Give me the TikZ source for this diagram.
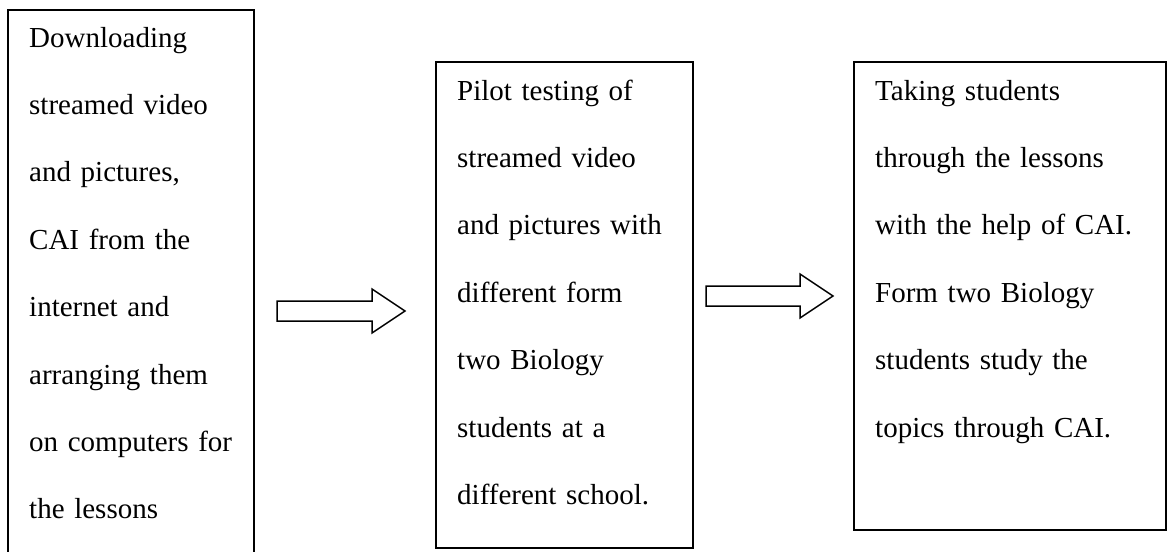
\documentclass[tikz,border=0pt]{standalone}
\usepackage{fontspec}
\setmainfont{Liberation Serif}
\usetikzlibrary{calc}
\begin{document}
\begin{tikzpicture}[x=1pt,y=-1pt,
  boxline/.style={draw=black, line width=1.6pt, inner sep=0pt},
  txt/.style={anchor=base west, inner sep=0pt, text width=330pt, align=left,
              font=\fontsize{29}{67.4}\selectfont},
  blockarrow/.style={draw=black, line width=1.5pt, fill=white, line join=miter}]
\useasboundingbox (0,0) rectangle (1171,552);
\clip (0,0) rectangle (1171,552);
% boxes
\node[boxline, minimum width=246pt, minimum height=560pt] (b1) at (131,290) {};
\node[boxline, minimum width=257pt, minimum height=486pt] (b2) at (564.5,305) {};
\node[boxline, minimum width=312pt, minimum height=468pt] (b3) at (1010,296) {};
% texts
\node[txt] (t1) at (29,47) {Downloading\\streamed video\\and pictures,\\CAI from the\\internet and\\arranging them\\on computers for\\the lessons};
\node[txt] (t2) at (457,100) {Pilot testing of\\streamed video\\and pictures with\\different form\\two Biology\\students at a\\different school.};
\node[txt] (t3) at (875,100) {Taking students\\through the lessons\\with the help of CAI.\\Form two Biology\\students study the\\topics through CAI.};
% block arrows
\coordinate (a1tail) at (277,311);
\coordinate (a1tip) at (405,311);
\draw[blockarrow] ($(a1tail)+(0,-10)$) -- ($(a1tip)+(-33,-10)$) -- ($(a1tip)+(-33,-22)$) -- (a1tip)
  -- ($(a1tip)+(-33,22)$) -- ($(a1tip)+(-33,10)$) -- ($(a1tail)+(0,10)$) -- cycle;
\coordinate (a2tail) at (706,296);
\coordinate (a2tip) at (833,296);
\draw[blockarrow] ($(a2tail)+(0,-10)$) -- ($(a2tip)+(-33,-10)$) -- ($(a2tip)+(-33,-22)$) -- (a2tip)
  -- ($(a2tip)+(-33,22)$) -- ($(a2tip)+(-33,10)$) -- ($(a2tail)+(0,10)$) -- cycle;
\end{tikzpicture}
\end{document}
